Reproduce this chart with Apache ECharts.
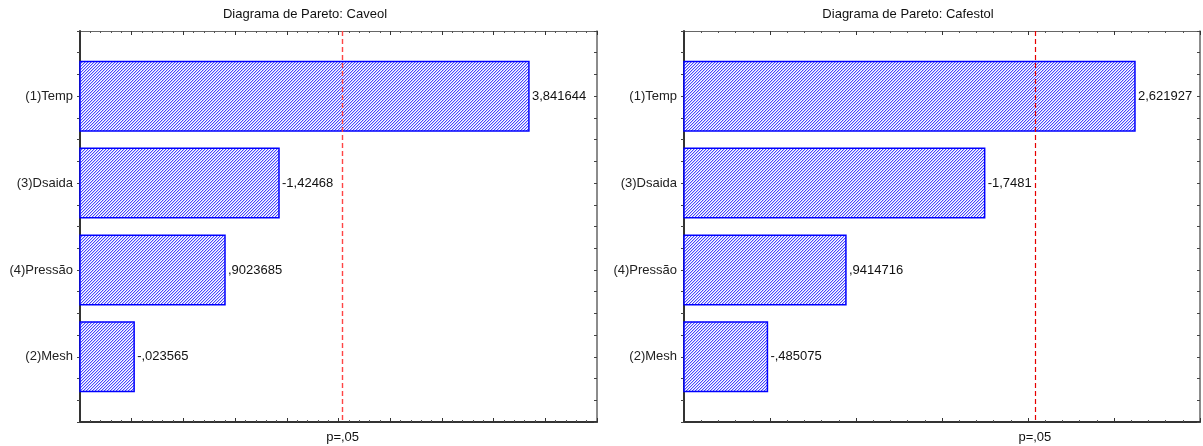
<!DOCTYPE html>
<html>
<head>
<meta charset="utf-8">
<script src="https://cdn.jsdelivr.net/npm/echarts@6/dist/echarts.min.js"></script>
<style>
  html, body { margin: 0; padding: 0; background: #fff; }
  #chart { width: 1203px; height: 446px; }
</style>
</head>
<body>
<div id="chart"></div>
<script>
// Effects (standardized), listed top to bottom
const categories = ['(1)Temp', '(3)Dsaida', '(4)Pressão', '(2)Mesh'];
const caveolEffects = [3.841644, -1.42468, 0.9023685, -0.023565];
const cafestolEffects = [2.621927, -1.7481, 0.9414716, -0.485075];
const titles = ['Diagrama de Pareto: Caveol', 'Diagrama de Pareto: Cafestol'];
const pLabel = 'p=,05';
const tCritical = 2.042;
const caveolRange = [-0.5, 4.5];
const cafestolRange = [0, 3];

const FONT = '"Liberation Sans", Arial, sans-serif';
const FS = 13;

// Diagonal hatch used to fill the bars
function makeHatch() {
  const c = document.createElement('canvas');
  c.width = 3; c.height = 3;
  const ctx = c.getContext('2d');
  ctx.fillStyle = '#ffffff';
  ctx.fillRect(0, 0, 3, 3);
  for (let y = 0; y < 3; y++) {
    for (let x = 0; x < 3; x++) {
      const k = (x + y) % 3;
      if (k === 2) { ctx.fillStyle = '#4848ff'; ctx.fillRect(x, y, 1, 1); }
      else if (k === 0) { ctx.fillStyle = '#c4c4ff'; ctx.fillRect(x, y, 1, 1); }
    }
  }
  return { image: c, repeat: 'repeat' };
}
const hatch = makeHatch();

// Statistica-style number text: comma decimal, no leading zero
function fmt(v) {
  return String(v).replace(/^(-?)0\./, '$1.').replace('.', ',');
}

const grids = [
  { left: 80, top: 31, width: 517, height: 391 },
  { left: 684, top: 31, width: 516, height: 391 }
];
const titleCenters = [305, 908];
const ranges = [caveolRange, cafestolRange];
const effects = [caveolEffects, cafestolEffects];
const refLine = [
  { color: '#ff4444', width: 1.4, dash: [5, 3] },
  { color: '#e60000', width: 1.2, dash: [5, 3] }
];

const xAxes = [], yAxes = [], series = [], title = [];

grids.forEach((g, i) => {
  const r = ranges[i];
  title.push({
    text: titles[i],
    left: titleCenters[i],
    top: 8,
    textAlign: 'center',
    padding: 0,
    textStyle: { fontFamily: FONT, fontSize: FS, fontWeight: 'normal', color: '#111' }
  });
  // bottom and top value axes
  ['bottom', 'top'].forEach((pos) => {
    xAxes.push({
      type: 'value', gridIndex: i, position: pos,
      min: r[0], max: r[1], interval: 0.5,
      axisLine: { show: true, onZero: false, lineStyle: { color: pos === 'bottom' ? '#333' : '#666', width: pos === 'bottom' ? 2 : 1.2 } },
      axisTick: { show: true, inside: true, length: 4, lineStyle: { color: '#333' } },
      minorTick: { show: true, splitNumber: 5, length: 2, lineStyle: { color: '#555' } },
      axisLabel: { show: false },
      splitLine: { show: false }
    });
  });
  // left (category names) and right y axes; rows centred on integer positions
  ['left', 'right'].forEach((pos) => {
    yAxes.push({
      type: 'value', gridIndex: i, position: pos, inverse: true,
      min: -0.75, max: 3.75, interval: 0.25,
      axisLine: { show: true, onZero: false, lineStyle: { color: pos === 'left' ? '#333' : '#666', width: pos === 'left' ? 2 : 1.5 } },
      axisTick: { show: true, inside: pos === 'right', length: 3, lineStyle: { color: '#444' } },
      axisLabel: {
        show: pos === 'left', margin: 7,
        fontFamily: FONT, fontSize: FS, color: '#222',
        formatter: (v) => (Number.isInteger(v) && v >= 0 && v < categories.length) ? categories[v] : ''
      },
      splitLine: { show: false }
    });
  });

  const xMin = r[0];
  series.push({
    type: 'custom',
    xAxisIndex: i * 2,
    yAxisIndex: i * 2,
    encode: { x: 1, y: 0 },
    data: effects[i].map((v, k) => [k, v]),
    renderItem: (params, api) => {
      const k = api.value(0);
      const v = api.value(1);
      const p0 = api.coord([xMin, k]);
      const p1 = api.coord([Math.abs(v), k]);
      const h = api.size([0, 0.8])[1];
      return {
        type: 'group',
        children: [
          {
            type: 'rect',
            shape: { x: p0[0], y: p0[1] - h / 2, width: p1[0] - p0[0], height: h },
            style: { fill: hatch, stroke: '#0000ff', lineWidth: 1.5 }
          },
          {
            type: 'text',
            style: {
              text: fmt(v), x: p1[0] + 3, y: p1[1],
              verticalAlign: 'middle', align: 'left',
              font: FS + 'px ' + FONT, fill: '#111'
            }
          }
        ]
      };
    },
    markLine: {
      silent: true,
      symbol: 'none',
      animation: false,
      lineStyle: { color: refLine[i].color, width: refLine[i].width, type: refLine[i].dash, opacity: 1 },
      label: {
        show: true, position: 'end', distance: 9,
        formatter: pLabel, fontFamily: FONT, fontSize: FS, color: '#111'
      },
      data: [{ xAxis: tCritical, lineStyle: { color: refLine[i].color } }]
    },
    z: 2
  });
});

const chart = echarts.init(document.getElementById('chart'), null, { renderer: 'canvas' });
chart.setOption({
  animation: false,
  backgroundColor: '#ffffff',
  title,
  grid: grids,
  xAxis: xAxes,
  yAxis: yAxes,
  series
});
</script>
</body>
</html>
